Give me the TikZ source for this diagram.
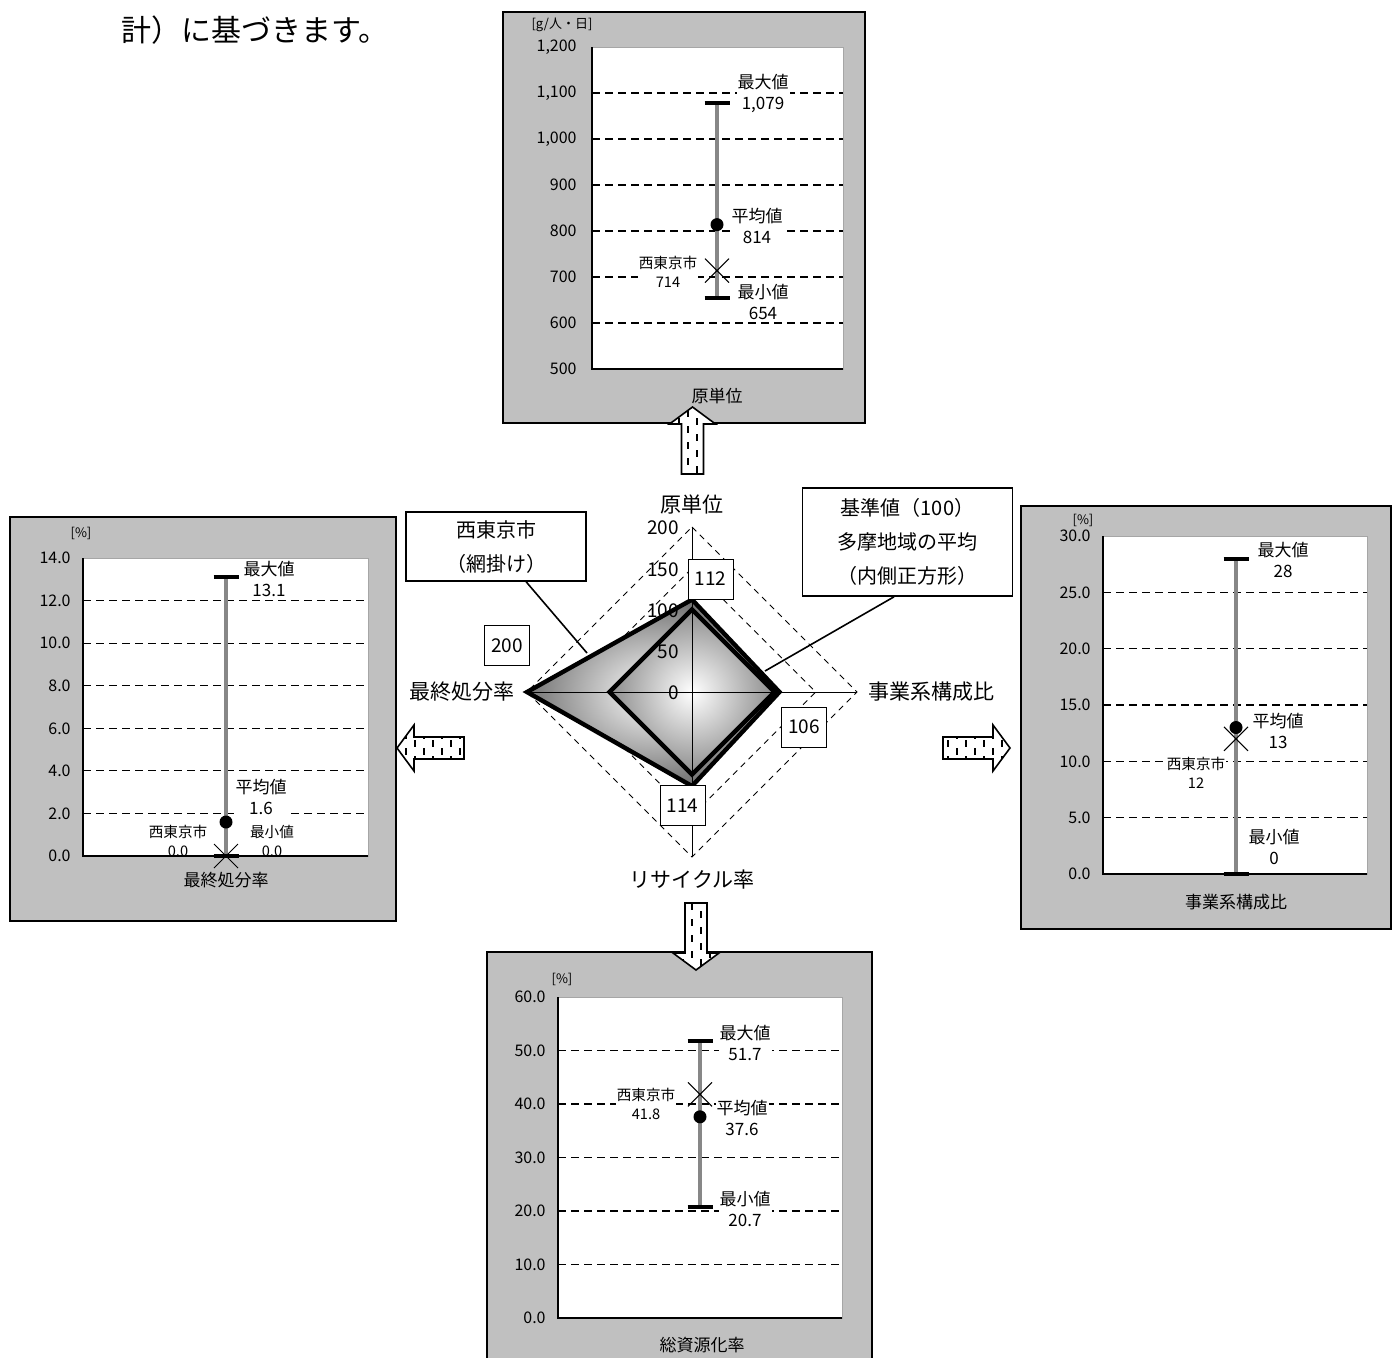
\documentclass[tikz,border=0pt]{standalone}
\usepackage{fontspec}
\setmainfont{Noto Sans CJK JP}

\definecolor{panelgray}{RGB}{192,192,192}
\definecolor{bargray}{RGB}{135,135,135}

\tikzset{
  panel/.style={draw=black, line width=0.6pt, fill=panelgray},
  plotarea/.style={draw=black!35, line width=0.5pt, fill=white},
  plotaxis/.style={line width=0.7pt},
  gridline/.style={black, line width=0.55pt, dash pattern=on 4pt off 2.5pt},
  ticklabel/.style={anchor=east, inner sep=0pt, font=\fontsize{8}{9}\selectfont},
  unitlabel/.style={inner sep=0pt, font=\fontsize{6.5}{8}\selectfont},
  datalabel/.style={fill=white, inner sep=0.5pt, align=center, font=\fontsize{8.5}{10.5}\selectfont},
  citylabel/.style={fill=white, inner sep=0.5pt, align=center, font=\fontsize{7.3}{9.5}\selectfont},
  paneltitle/.style={inner sep=0pt, font=\fontsize{8.5}{10}\selectfont},
  rangebar/.style={draw=bargray, line width=1.6pt},
  capbar/.style={line width=2pt},
  citymark/.style={line width=0.5pt},
  gridring/.style={line width=0.45pt, dash pattern=on 3pt off 2.5pt},
  radaraxis/.style={line width=0.5pt},
  radarline/.style={line width=2.2pt, line join=miter},
  scalelabel/.style={anchor=east, inner sep=0pt, font=\fontsize{9.5}{11}\selectfont},
  axisname/.style={inner sep=0pt, font=\fontsize{10.5}{12}\selectfont},
  valuebox/.style={draw, fill=white, line width=0.5pt, minimum width=22.5pt, minimum height=20pt, inner sep=0pt, font=\fontsize{9.5}{11}\selectfont},
  notebox/.style={draw, fill=white, line width=0.8pt, align=center, inner sep=0pt, font=\fontsize{10}{17}\selectfont},
  leader/.style={line width=0.8pt},
}

% block arrow pointing along +x, tail at the origin
\newcommand{\arrowshape}{(0,-11) -- (50,-11) -- (50,-23) -- (67,0) -- (50,23) -- (50,11) -- (0,11) -- cycle}
% #1,#2 tail centre, #3 direction
\newcommand{\hatcharrow}[3]{%
  \fill[white, shift={(#1,#2)}, rotate=#3] \arrowshape;
  \begin{scope}
    \clip[shift={(#1,#2)}, rotate=#3] \arrowshape;
    \foreach \k [evaluate=\k as \ph using {mod(\k,2)*4}] in {0,...,17}
      \draw[line width=1pt, dash pattern=on 3.5pt off 4.5pt, dash phase={\ph pt}] ({#1-76.5+9*\k},{#2-80}) -- ++(0,160);
  \end{scope}
  \draw[line width=0.8pt, shift={(#1,#2)}, rotate=#3] \arrowshape;
}

\begin{document}
\begin{tikzpicture}[x=0.5pt, y=-0.5pt]
\useasboundingbox (0,0) rectangle (1392,1357);

\node[anchor=west, inner sep=0pt, font=\fontsize{15}{16}\selectfont] (headText) at (121,30) {計）に基づきます。};

% --- 原単位 (top)
\draw[panel] (503,12) rectangle (865,423);
\node[unitlabel] (unitA) at (562,25) {[g/人・日]};
\draw[plotarea] (592,47) rectangle (843,369);
\foreach \v in {600,700,...,1100}
  \draw[gridline] (592,{369-(\v-500)*0.46}) -- (843,{369-(\v-500)*0.46});
\foreach \v/\t in {500/500,600/600,700/700,800/800,900/900,1000/{1,000},1100/{1,100},1200/{1,200}}
  \node[ticklabel] (tickA\v) at (577,{369-(\v-500)*0.46}) {\t};
\node[datalabel] (maxA) at (763,93.5) {最大値\\1,079};
\node[datalabel] (avgA) at (757,225.5) {平均値\\814};
\node[citylabel] (cityA) at (668,271.5) {西東京市\\714};
\node[datalabel] (minA) at (763,301.5) {最小値\\654};
\draw[plotaxis] (592,47) -- (592,369) -- (843,369);
\draw[rangebar] (717,102.7) -- (717,298);
\draw[capbar] (704.5,102.7) -- (729.5,102.7) (704.5,298) -- (729.5,298);
\fill (717,224.6) circle [radius=6.5];
\draw[citymark] (705,258.6) -- (729,282.6) (705,282.6) -- (729,258.6);
\node[paneltitle] (titleA) at (717,396) {原単位};

% --- 事業系構成比 (right)
\draw[panel] (1021,506) rectangle (1391,929);
\node[unitlabel] (unitB) at (1083,520) {[\%]};
\draw[plotarea] (1103,536) rectangle (1367,874);
\foreach \v in {5,10,...,25}
  \draw[gridline] (1103,{874-\v*11.267}) -- (1367,{874-\v*11.267});
\foreach \v in {0,5,...,30}
  \node[ticklabel] (tickB\v) at (1091,{874-\v*11.267}) {\v.0};
\node[datalabel] (maxB) at (1283,559.5) {最大値\\28};
\node[datalabel] (avgB) at (1278,731) {平均値\\13};
\node[citylabel] (cityB) at (1196,772.5) {西東京市\\12};
\node[datalabel] (minB) at (1274,847) {最小値\\0};
\draw[plotaxis] (1103,536) -- (1103,874) -- (1367,874);
\draw[rangebar] (1236,558.5) -- (1236,874);
\draw[capbar] (1223.5,558.5) -- (1248.5,558.5) (1223.5,874) -- (1248.5,874);
\fill (1236,727.5) circle [radius=6.5];
\draw[citymark] (1224,726.8) -- (1248,750.8) (1224,750.8) -- (1248,726.8);
\node[paneltitle] (titleB) at (1236,902) {事業系構成比};

% --- 最終処分率 (left)
\draw[panel] (10,517) rectangle (396,921);
\node[unitlabel] (unitC) at (81,533) {[\%]};
\draw[plotarea] (83,558) rectangle (368,856);
\foreach \v in {2,4,...,12}
  \draw[gridline] (83,{856-\v*21.286}) -- (368,{856-\v*21.286});
\foreach \v in {0,2,...,14}
  \node[ticklabel] (tickC\v) at (71,{856-\v*21.286}) {\v.0};
\node[datalabel] (maxC) at (269,578.5) {最大値\\13.1};
\node[datalabel] (avgC) at (261,796.5) {平均値\\1.6};
\node[citylabel] (cityC) at (178,840.5) {西東京市\\0.0};
\node[citylabel] (minC) at (272,840.5) {最小値\\0.0};
\draw[plotaxis] (83,558) -- (83,856) -- (368,856);
\draw[rangebar] (226,577.1) -- (226,856);
\draw[capbar] (213.5,577.1) -- (238.5,577.1) (213.5,856) -- (238.5,856);
\fill (226,822) circle [radius=6.5];
\draw[citymark] (214,844) -- (238,868) (214,868) -- (238,844);
\node[paneltitle] (titleC) at (226,880) {最終処分率};

% --- 総資源化率 (bottom)
\draw[panel] (487,952) rectangle (872,1362);
\node[unitlabel] (unitD) at (562,979) {[\%]};
\draw[plotarea] (558,997) rectangle (842,1318);
\foreach \v in {10,20,...,50}
  \draw[gridline] (558,{1318-\v*5.35}) -- (842,{1318-\v*5.35});
\foreach \v in {0,10,...,60}
  \node[ticklabel] (tickD\v) at (546,{1318-\v*5.35}) {\v.0};
\node[datalabel] (maxD) at (745,1042.5) {最大値\\51.7};
\node[datalabel] (avgD) at (742,1117.5) {平均値\\37.6};
\node[citylabel] (cityD) at (646,1103.5) {西東京市\\41.8};
\node[datalabel] (minD) at (745,1209) {最小値\\20.7};
\draw[plotaxis] (558,997) -- (558,1318) -- (842,1318);
\draw[rangebar] (700,1041.4) -- (700,1207.3);
\draw[capbar] (687.5,1041.4) -- (712.5,1041.4) (687.5,1207.3) -- (712.5,1207.3);
\fill (700,1116.8) circle [radius=6.5];
\draw[citymark] (688,1082.4) -- (712,1106.4) (688,1106.4) -- (712,1082.4);
\node[paneltitle] (titleD) at (702,1345) {総資源化率};

% --- block arrows
\hatcharrow{692.5}{474}{90}
\hatcharrow{464}{748}{180}
\hatcharrow{943}{748}{0}
\hatcharrow{696}{903}{-90}

% --- radar
\begin{scope}[shift={(692,692)}, scale=0.825]
  \foreach \r in {50,100,150,200}
    \draw[gridring] (0,-\r) -- (\r,0) -- (0,\r) -- (-\r,0) -- cycle;
  \shade[inner color=white, outer color=black!55] (0,-112) -- (106,0) -- (0,114) -- (-200,0) -- cycle;
  \shade[inner color=white, outer color=black!45] (0,-100) -- (100,0) -- (0,100) -- (-100,0) -- cycle;
  \draw[radaraxis] (0,-200) -- (0,200) (-200,0) -- (200,0);
  \draw[radarline] (0,-112) -- (106,0) -- (0,114) -- (-200,0) -- cycle;
  \draw[radarline] (0,-100) -- (100,0) -- (0,100) -- (-100,0) -- cycle;
  \foreach \v in {0,50,...,200}
    \node[scalelabel] (scale\v) at (-15.5,{-\v+1.2}) {\v};
\end{scope}

\node[valuebox] (valTop) at (710.5,579) {112};
\node[valuebox] (valRight) at (804,727) {106};
\node[valuebox] (valBottom) at (682.5,805.5) {114};
\node[valuebox] (valLeft) at (507,645.5) {200};

\node[axisname] (nameTop) at (692,505) {原単位};
\node[axisname] (nameRight) at (931,692) {事業系構成比};
\node[axisname] (nameLeft) at (462,692) {最終処分率};
\node[axisname] (nameBottom) at (692,880) {リサイクル率};

% callouts
\node[notebox, minimum width=90pt, minimum height=34.5pt] (cityNote) at (496,546.5) {西東京市\\（網掛け）};
\node[notebox, minimum width=105pt, minimum height=54pt] (avgNote) at (907.5,542) {基準値（100）\\多摩地域の平均\\（内側正方形）};
\coordinate (cityTip) at (587,653);
\coordinate (avgTip) at (765,671);
\draw[leader] (cityNote) -- (cityTip);
\draw[leader] ([xshift=-6.75pt]avgNote.south) -- (avgTip);
\end{tikzpicture}
\end{document}
